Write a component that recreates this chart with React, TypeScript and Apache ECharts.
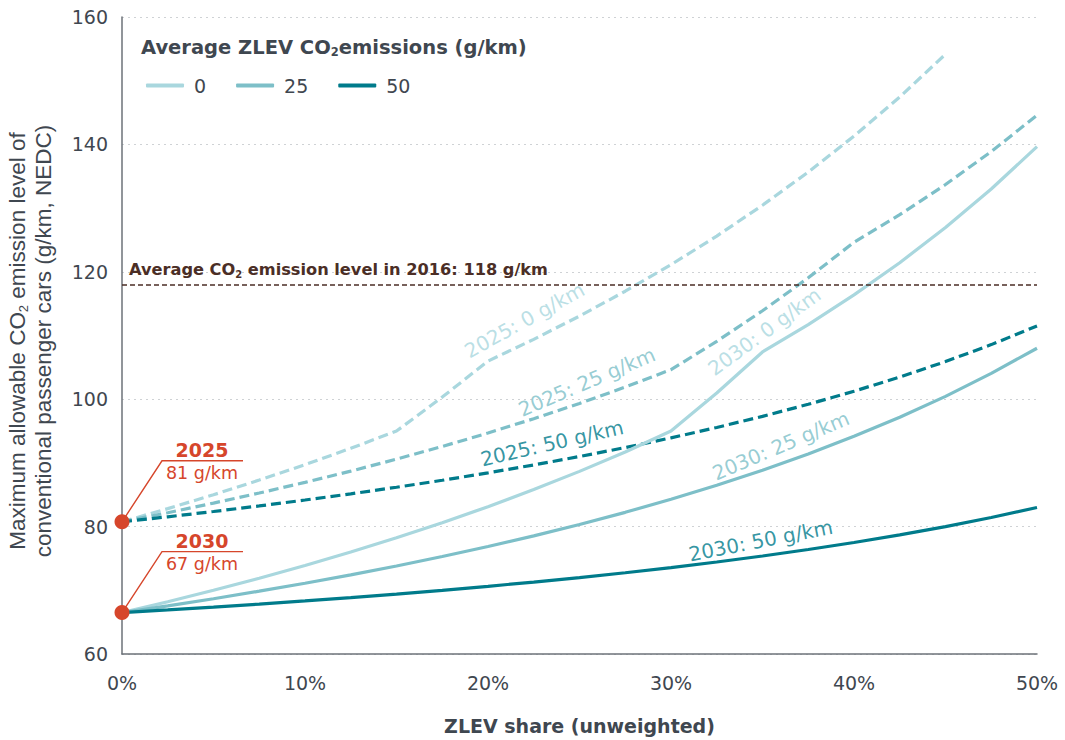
import { useEffect, useRef } from "react";
import * as echarts from "echarts";

// ZLEV share (%, unweighted)
const shares = [0, 2.5, 5, 7.5, 10, 12.5, 15, 17.5, 20, 22.5, 25, 27.5, 30, 32.5, 35, 37.5, 40, 42.5, 45, 47.5, 50];

// Max allowable CO2 of conventional cars (g/km, NEDC)
const y2025_0 = [80.75, 82.82, 85.0, 87.3, 89.72, 92.29, 95.0, 100.33, 105.98, 109.4, 113.05, 116.95, 121.12, 125.61, 130.45, 135.66, 141.31, 147.45, 154.16];
const y2025_25 = [80.75, 82.18, 83.69, 85.27, 86.94, 88.71, 90.59, 92.58, 94.69, 96.94, 99.34, 101.9, 104.64, 109.08, 113.88, 119.05, 124.64, 128.97, 133.7, 138.88, 144.57];
const y2025_50 = [80.75, 81.54, 82.37, 83.24, 84.17, 85.14, 86.18, 87.27, 88.44, 89.68, 91.0, 92.41, 93.93, 95.56, 97.31, 99.2, 101.25, 103.48, 105.91, 108.57, 111.5];
const y2030_0 = [66.5, 68.21, 70.0, 71.89, 73.89, 76.0, 78.24, 80.61, 83.13, 85.81, 88.67, 91.72, 95.0, 100.98, 107.42, 111.72, 116.38, 121.43, 126.95, 133.0, 139.65];
const y2030_25 = [66.5, 67.56, 68.68, 69.86, 71.11, 72.43, 73.82, 75.3, 76.88, 78.55, 80.33, 82.24, 84.29, 86.48, 88.85, 91.4, 94.17, 97.17, 100.45, 104.05, 108.0];
const y2030_50 = [66.5, 66.92, 67.37, 67.84, 68.33, 68.86, 69.41, 70.0, 70.63, 71.29, 72.0, 72.76, 73.57, 74.44, 75.38, 76.4, 77.5, 78.7, 80.0, 81.43, 83.0];

const legendNames = ["0", "25", "50"];
const targetYears = ["2025", "2030"];
const targetValues = [80.75, 66.5];
const targetLabels = ["81 g/km", "67 g/km"];
const avg2016 = 118;

const yTicks = { min: 60, max: 160, interval: 20 };
const xTicks = { min: 0, max: 50, interval: 10 };

const C0 = "#a9d7de";
const C25 = "#7dbfc8";
const C50 = "#007b8b";
const BROWN = "#4b2e26";
const RED = "#d6462b";
const TEXT = "#3f4750";
const FONT = "DejaVu Sans";

const lineLabels = [
  { text: "2025: 0 g/km", x: 22.0, y: 112.4, rotate: 29, color: C0 },
  { text: "2025: 25 g/km", x: 25.4, y: 102.7, rotate: 23, color: C25 },
  { text: "2025: 50 g/km", x: 23.5, y: 93.1, rotate: 13, color: C50 },
  { text: "2030: 0 g/km", x: 35.1, y: 110.6, rotate: 36, color: C0 },
  { text: "2030: 25 g/km", x: 36.0, y: 92.7, rotate: 23, color: C25 },
  { text: "2030: 50 g/km", x: 34.9, y: 77.8, rotate: 11, color: C50 },
];

const pair = (ys: number[]) => ys.map((v, i) => [shares[i], v]);

export default function App() {
  const ref = useRef<HTMLDivElement>(null);
  useEffect(() => {
    const chart = echarts.init(ref.current!, null, { renderer: "svg" });
    const dashed = (name: string, color: string, ys: number[], extra: any = {}) => ({
      type: "line",
      name,
      data: pair(ys),
      symbol: "none",
      color,
      lineStyle: { color, width: 3.2, type: [10, 5] },
      z: 3,
      ...extra,
    });
    const solid = (name: string, color: string, ys: number[]) => ({
      type: "line",
      name,
      data: pair(ys),
      symbol: "none",
      color,
      lineStyle: { color, width: 3.2 },
      z: 3,
    });
    const option: any = {
      animation: false,
      grid: { left: 122, right: 28, top: 17, bottom: 81, containLabel: false },
      legend: {
        data: legendNames,
        left: 141,
        top: 71,
        icon: "roundRect",
        itemWidth: 38,
        itemHeight: 4,
        itemGap: 30,
        textStyle: { fontSize: 19, color: TEXT, fontFamily: FONT, padding: [0, 0, 0, 5] },
      },
      xAxis: {
        type: "value",
        ...xTicks,
        axisLabel: { formatter: "{value}%", fontSize: 19, color: TEXT, fontFamily: FONT, margin: 19 },
        axisTick: { show: false },
        axisLine: { show: true, lineStyle: { color: "#6c7278", width: 1.5 } },
        splitLine: { show: false },
        name: "ZLEV share (unweighted)",
        nameLocation: "middle",
        nameGap: 62,
        nameTextStyle: { fontSize: 19, fontWeight: "bold", color: TEXT, fontFamily: FONT },
      },
      yAxis: {
        type: "value",
        ...yTicks,
        axisLabel: { fontSize: 19, color: TEXT, fontFamily: FONT, margin: 14 },
        axisTick: { show: false },
        axisLine: { show: true, lineStyle: { color: "#6c7278", width: 1.5 } },
        splitLine: { show: true, lineStyle: { color: "#cfd2d5", type: [2, 4], width: 1 } },
      },
      series: [
        dashed("2025: 0 g/km", C0, y2025_0),
        dashed("2025: 25 g/km", C25, y2025_25),
        dashed("2025: 50 g/km", C50, y2025_50, {
          markLine: {
            silent: true,
            symbol: ["none", "none"],
            data: [{ yAxis: avg2016 }],
            lineStyle: { color: BROWN, width: 1.6, type: [5, 3] },
            label: {
              show: true,
              position: "insideStartTop",
              distance: [7, 5],
              formatter: "{a|Average CO}{s|2}{a| emission level in 2016: " + avg2016 + " g/km}",
              rich: {
                a: { fontSize: 16.2, fontWeight: "bold", color: BROWN, fontFamily: FONT, lineHeight: 20 },
                s: { fontSize: 10, fontWeight: "bold", color: BROWN, fontFamily: FONT, lineHeight: 10, verticalAlign: "bottom" },
              },
            },
          },
        }),
        solid("0", C0, y2030_0),
        solid("25", C25, y2030_25),
        solid("50", C50, y2030_50),
        {
          type: "scatter",
          name: "labels",
          silent: true,
          symbolSize: 1,
          itemStyle: { color: "rgba(0,0,0,0)" },
          z: 5,
          data: lineLabels.map((l) => ({
            value: [l.x, l.y],
            label: { show: true, formatter: l.text, rotate: l.rotate, color: l.color },
          })),
          label: { show: true, position: "inside", fontSize: 20, fontFamily: FONT },
        },
        {
          type: "scatter",
          name: "targets",
          silent: true,
          clip: false,
          symbolSize: 15,
          itemStyle: { color: RED, opacity: 1 },
          z: 10,
          data: targetValues.map((v) => [0, v]),
        },
      ],
    };
    chart.setOption(option);

    const gfx: any[] = [
      {
        type: "text",
        x: 141,
        y: 47,
        style: {
          text: "{a|Average ZLEV CO}{s|2}{a|emissions (g/km)}",
          verticalAlign: "middle",
          textVerticalAlign: "middle",
          rich: {
            a: { fontSize: 19.5, fontWeight: "bold", fill: TEXT, color: TEXT, fontFamily: FONT, lineHeight: 22 },
            s: { fontSize: 11.5, fontWeight: "bold", fill: TEXT, color: TEXT, fontFamily: FONT, lineHeight: 11, verticalAlign: "bottom" },
          },
        },
      },
      {
        type: "text",
        x: 30,
        y: 341,
        rotation: Math.PI / 2,
        style: {
          text: "{a|Maximum allowable CO}{s|2}{a| emission level of}\n{a|conventional passenger cars (g/km, NEDC)}",
          align: "center",
          textAlign: "center",
          verticalAlign: "middle",
          textVerticalAlign: "middle",
          rich: {
            a: { fontSize: 22.5, fill: TEXT, color: TEXT, fontFamily: "Liberation Sans", lineHeight: 26 },
            s: { fontSize: 13, fill: TEXT, color: TEXT, fontFamily: "Liberation Sans", lineHeight: 13, verticalAlign: "bottom" },
          },
        },
      },
    ];
    targetValues.forEach((v, i) => {
      const [px, py] = chart.convertToPixel({ gridIndex: 0 }, [0, v]) as number[];
      gfx.push({
        type: "polyline",
        z: 9,
        shape: { points: [[px, py], [px + 40, py - 61], [px + 121, py - 61]] },
        style: { stroke: RED, lineWidth: 1.4, fill: "none" },
      });
      gfx.push({
        type: "text",
        x: px + 80,
        y: py - 72,
        z: 9,
        style: {
          text: targetYears[i],
          fontSize: 19,
          fontWeight: "bold",
          fontFamily: FONT,
          fill: RED,
          align: "center",
          textAlign: "center",
          verticalAlign: "middle",
          textVerticalAlign: "middle",
        },
      });
      gfx.push({
        type: "text",
        x: px + 80,
        y: py - 49,
        z: 9,
        style: {
          text: targetLabels[i],
          fontSize: 17.5,
          fontFamily: FONT,
          fill: RED,
          align: "center",
          textAlign: "center",
          verticalAlign: "middle",
          textVerticalAlign: "middle",
        },
      });
    });
    chart.setOption({ graphic: gfx });
    return () => chart.dispose();
  }, []);
  return <div ref={ref} style={{ position: "absolute", left: 0, top: 0, width: 1065, height: 740 }} />;
}
